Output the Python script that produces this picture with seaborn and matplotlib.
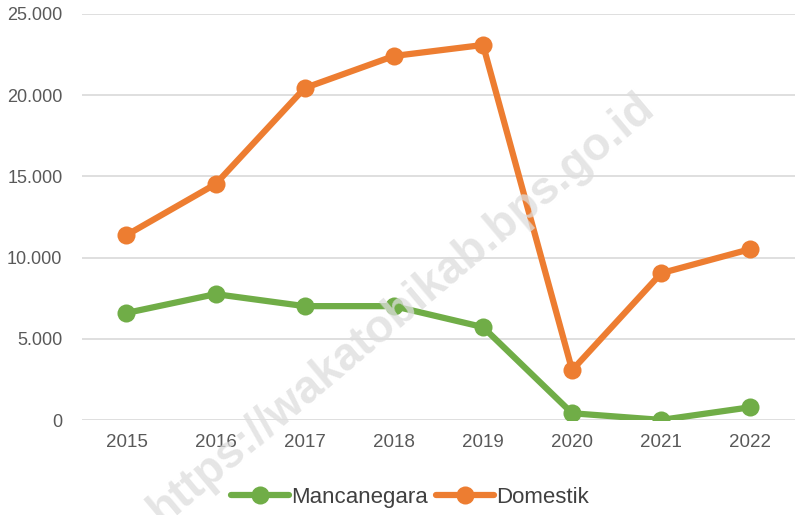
import pandas as pd
import matplotlib
matplotlib.use("Agg")
import matplotlib.pyplot as plt
import seaborn as sns
from matplotlib.ticker import FuncFormatter

years = ["2015", "2016", "2017", "2018", "2019", "2020", "2021", "2022"]
mancanegara = [6600, 7760, 7020, 7020, 5730, 430, 20, 800]
domestik = [11390, 14530, 20440, 22410, 23090, 3080, 9050, 10530]

df = pd.DataFrame({
    "Tahun": years * 2,
    "Jumlah": mancanegara + domestik,
    "Jenis": ["Mancanegara"] * len(years) + ["Domestik"] * len(years),
})

sns.set_theme(style="white")
plt.rcParams["font.family"] = ["Liberation Sans", "DejaVu Sans"]

fig = plt.figure(figsize=(7.95, 5.15), dpi=100)
ax = fig.add_axes([0.103, 0.184, 0.897, 0.789])

sns.lineplot(data=df, x="Tahun", y="Jumlah", hue="Jenis",
             palette={"Mancanegara": "#70AD47", "Domestik": "#ED7D31"},
             marker="o", markersize=13, markeredgewidth=0, linewidth=4.5,
             sort=False, ax=ax, zorder=3)

ax.set_ylim(0, 25000)
ax.set_xlim(-0.5, len(years) - 0.5)
ax.set_yticks(range(0, 25001, 5000))
ax.yaxis.set_major_formatter(FuncFormatter(lambda v, p: f"{int(v):,}".replace(",", ".")))
ax.grid(axis="y", color="#D9D9D9", linewidth=1.2)
ax.set_axisbelow(True)
for s in ax.spines.values():
    s.set_visible(False)
ax.tick_params(axis="x", length=0, labelsize=13.5, labelcolor="#595959", pad=10)
ax.tick_params(axis="y", length=0, labelsize=13, labelcolor="#595959", pad=14)
ax.set_xlabel("")
ax.set_ylabel("")

# watermark
fig.text(0.505, 0.40, "https://wakatobikab.bps.go.id", rotation=40,
         fontsize=33, fontweight="bold", color="#DDDDDD", alpha=0.75,
         ha="center", va="center", zorder=0)

ax.legend(loc="center", bbox_to_anchor=(0.46, -0.19), ncol=2,
          frameon=False, fontsize=16, handlelength=2.6, columnspacing=0.4,
          handletextpad=0.1, labelcolor="#404040")

fig.savefig("out.png", dpi=100)
